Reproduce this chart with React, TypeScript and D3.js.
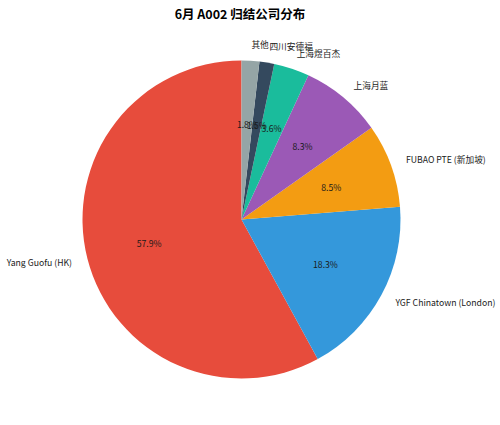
import React from "react";
import * as d3 from "d3";

const categories = ["Yang Guofu (HK)", "YGF Chinatown (London)", "FUBAO PTE (新加坡)", "上海月蓝", "上海煜百杰", "四川安德福", "其他"];
const values = [57.9, 18.3, 8.5, 8.3, 3.6, 1.5, 1.8];
const colors = ["#e74c3c", "#3498db", "#f39c12", "#9b59b6", "#1abc9c", "#34495e", "#95a5a6"];
const title = "6月 A002 归结公司分布";

const W = 500, H = 425;
const cx = 241.5, cy = 219.5, R = 159;
const FONT = "'Noto Sans CJK SC', 'Noto Sans', sans-serif";

export default function App() {
  const total = d3.sum(values);
  // matplotlib style: start at 90deg, counterclockwise
  let acc = 0;
  const slices = values.map((v, i) => {
    const a0 = 90 + (acc / total) * 360;
    acc += v;
    const a1 = 90 + (acc / total) * 360;
    return { i, v, a0, a1 };
  });
  const toD3 = (deg: number) => ((90 - deg) * Math.PI) / 180;
  const arc = d3.arc<any>().innerRadius(0).outerRadius(R);
  return (
    <svg width={W} height={H} style={{ position: "absolute", left: 0, top: 0 }}>
      <rect width={W} height={H} fill="#fff" />
      <text x={240} y={13} textAnchor="middle" dominantBaseline="central" fontFamily={FONT} fontWeight="bold" fontSize={12.5}>{title}</text>
      <g transform={`translate(${cx},${cy})`}>
        {slices.map((s) => (
          <path key={s.i} d={arc({ startAngle: toD3(s.a1), endAngle: toD3(s.a0) }) as string} fill={colors[s.i]} />
        ))}
        {slices.map((s) => {
          const m = ((s.a0 + s.a1) / 2) * Math.PI / 180;
          const lx = 1.1 * R * Math.cos(m);
          const ly = -1.1 * R * Math.sin(m);
          const px = 0.6 * R * Math.cos(m);
          const py = -0.6 * R * Math.sin(m);
          return (
            <g key={"t" + s.i}>
              <text x={lx} y={ly} textAnchor={lx > 0 ? "start" : "end"} dominantBaseline="central" fontFamily={FONT} fontSize={8.7} fill="#1a1a1a">{categories[s.i]}</text>
              <text x={px} y={py} textAnchor="middle" dominantBaseline="central" fontFamily={FONT} fontSize={8.7} fill="#1a1a1a">{s.v.toFixed(1) + "%"}</text>
            </g>
          );
        })}
      </g>
    </svg>
  );
}
